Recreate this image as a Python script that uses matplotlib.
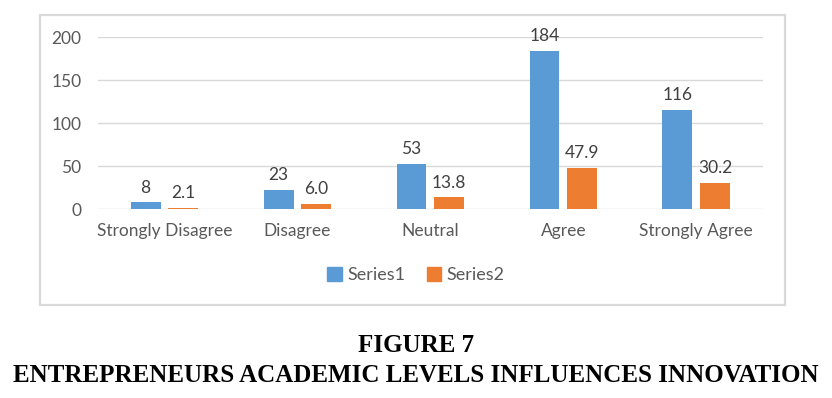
import matplotlib.pyplot as plt
from matplotlib.patches import Rectangle, Patch
import numpy as np

# ===== data =====
categories = ["Strongly Disagree", "Disagree", "Neutral", "Agree", "Strongly Agree"]
series1 = [8, 23, 53, 184, 116]
series2 = [2.1, 6.0, 13.8, 47.9, 30.2]
labels1 = ["8", "23", "53", "184", "116"]
labels2 = ["2.1", "6.0", "13.8", "47.9", "30.2"]
yticks = [0, 50, 100, 150, 200]

blue = "#5B9BD5"
orange = "#ED7D31"
txt = "#595959"
grid = "#D9D9D9"

plt.rcParams['font.family'] = ['Lato', 'DejaVu Sans']

fig = plt.figure(figsize=(8.32, 3.98), dpi=100)

# chart border
fig.patches.append(Rectangle((0.0475, 0.2337), 0.896, 0.7286, transform=fig.transFigure,
                             fill=False, edgecolor=grid, linewidth=1.6, zorder=0))

ax = fig.add_axes([0.1178, 0.474, 0.799, 0.432])
x = np.arange(len(categories))
w = 0.225
off = 0.142
b1 = ax.bar(x - off, series1, w, color=blue, zorder=3)
b2 = ax.bar(x + off, series2, w, color=orange, zorder=3)

for bars, labs in ((b1, labels1), (b2, labels2)):
    for r, lab in zip(bars, labs):
        ax.annotate(lab, (r.get_x() + r.get_width() / 2, r.get_height()),
                    xytext=(0, 5), textcoords="offset points",
                    ha="center", va="bottom", fontsize=12.5, color="#404040")

ax.set_xlim(-0.5, len(categories) - 0.5)
ax.set_ylim(0, 200)
ax.set_yticks(yticks)
ax.set_xticks(x)
ax.set_xticklabels(categories)
ax.tick_params(axis="y", length=0, pad=12, labelsize=12.5, labelcolor=txt)
ax.tick_params(axis="x", length=0, pad=10, labelsize=12.5, labelcolor=txt)
ax.grid(axis="y", color=grid, linewidth=1, zorder=0)
for s in ax.spines.values():
    s.set_visible(False)

handles = [Patch(color=blue, label="Series1"), Patch(color=orange, label="Series2")]
fig.legend(handles=handles, loc="center", bbox_to_anchor=(416 / 832, 1 - 275 / 398),
           ncol=2, frameon=False, fontsize=13, labelcolor=txt,
           handlelength=0.8, handleheight=0.8, handletextpad=0.3, columnspacing=1.2)

# figure caption
fig.text(0.5, 1 - 346 / 398, "FIGURE 7", ha="center", va="center",
         family="Liberation Serif", fontweight="bold", fontsize=18)
fig.text(0.5, 1 - 375 / 398, "ENTREPRENEURS ACADEMIC LEVELS INFLUENCES INNOVATION",
         ha="center", va="center", family="Liberation Serif", fontweight="bold", fontsize=18)

fig.savefig("out.png", dpi=100)
